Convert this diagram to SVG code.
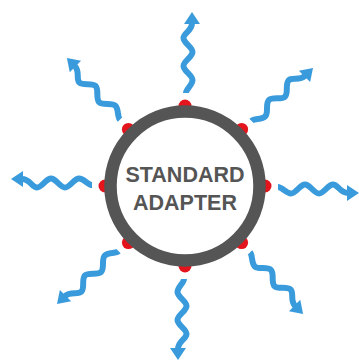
<svg xmlns="http://www.w3.org/2000/svg" xmlns:xlink="http://www.w3.org/1999/xlink" width="359" height="362" viewBox="0 0 359 362">
<style>
.wave{fill:none;stroke:#3a9bdc;stroke-width:6;stroke-linecap:butt;stroke-linejoin:round}
.head{fill:#3a9bdc}
.dot{fill:#e3141b}
.ring{fill:#fff;stroke:#555;stroke-width:12.5}
.label{font-family:"Liberation Sans",Arial,sans-serif;font-weight:bold;font-size:21.5px;fill:#555;text-anchor:middle}
</style>
<defs>
<g id="wavy">
<path class="wave" d="M1,-93 C1,-97 7.5,-101 7.5,-106 C7.5,-111 -1.5,-115 -1.5,-120 C-1.5,-125 7.5,-129 7.5,-134 C7.5,-139 -1.5,-143 -1.5,-148 C-1.5,-153 7,-155 7,-163"/>
<polygon class="head" points="-1,-162 15,-162 7,-174"/>
</g>
</defs>
<g id="connectors" transform="translate(185,186)">
<use href="#wavy"/>
<use href="#wavy" transform="rotate(45)"/>
<use href="#wavy" transform="rotate(90)"/>
<use href="#wavy" transform="rotate(135)"/>
<use href="#wavy" transform="rotate(180)"/>
<use href="#wavy" transform="rotate(225)"/>
<use href="#wavy" transform="rotate(270)"/>
<use href="#wavy" transform="rotate(315)"/>
</g>
<g id="adapter">
<circle class="dot" cx="185" cy="106" r="6.5"/>
<circle class="dot" cx="241.6" cy="129.4" r="6.5"/>
<circle class="dot" cx="265" cy="186" r="6.5"/>
<circle class="dot" cx="241.6" cy="242.6" r="6.5"/>
<circle class="dot" cx="185" cy="266" r="6.5"/>
<circle class="dot" cx="128.4" cy="242.6" r="6.5"/>
<circle class="dot" cx="105" cy="186" r="6.5"/>
<circle class="dot" cx="128.4" cy="129.4" r="6.5"/>
<circle class="ring" cx="185" cy="186" r="74.5"/>
<text class="label" x="185" y="182">STANDARD</text>
<text class="label" x="185" y="210">ADAPTER</text>
</g>
</svg>
